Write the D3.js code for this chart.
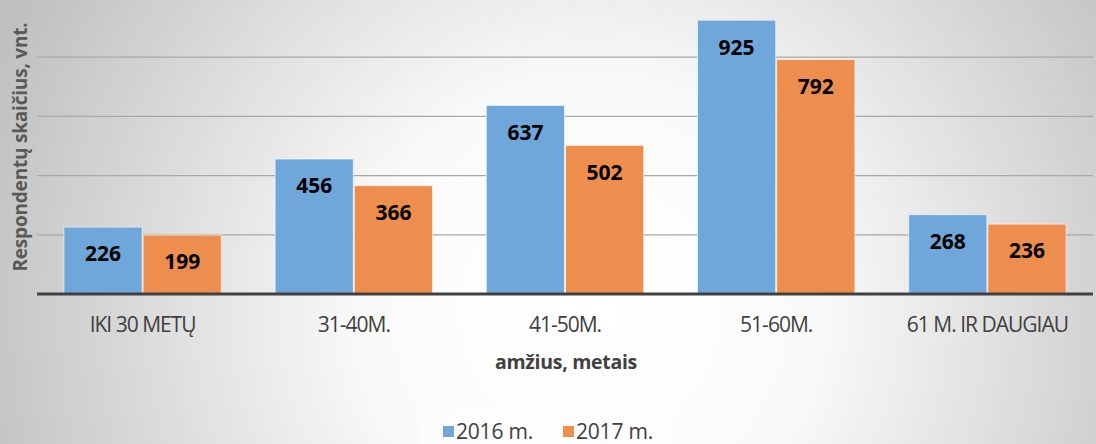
<!DOCTYPE html>
<html>
<head>
<meta charset="utf-8">
<script src="https://cdn.jsdelivr.net/npm/d3@7"></script>
<style>
  body { margin: 0; }
  svg { display: block; }
</style>
</head>
<body>
<div id="chart"></div>
<script>
let width = 1096,
    height = 444;
let margin = { top: -2, right: 3, bottom: 150, left: 37 };

// data
let categories = ["IKI 30 METŲ", "31-40M.", "41-50M.", "51-60M.", "61 M. IR DAUGIAU"];
let series = ["2016 m.", "2017 m."];
let values2016 = [226, 456, 637, 925, 268];
let values2017 = [199, 366, 502, 792, 236];
let gridTicks = [200, 400, 600, 800, 1000];

let colors = { "2016 m.": "#6fa7da", "2017 m.": "#ee8e4e" };

let rows = categories.map((c, i) => ({ cat: c, vals: [
    { key: "2016 m.", value: values2016[i] },
    { key: "2017 m.", value: values2017[i] }
] }));

let svg = d3.select("#chart")
    .append("svg")
    .attr("width", width)
    .attr("height", height);

// background gradient
let defs = svg.append("defs");
let grad = defs.append("radialGradient")
    .attr("id", "bg")
    .attr("gradientUnits", "userSpaceOnUse")
    .attr("cx", 590).attr("cy", 310).attr("r", 640);
grad.append("stop").attr("offset", "0%").attr("stop-color", "#ffffff");
grad.append("stop").attr("offset", "35%").attr("stop-color", "#fafafa");
grad.append("stop").attr("offset", "100%").attr("stop-color", "#c0c0c0");

svg.append("rect")
    .attr("width", width)
    .attr("height", height)
    .attr("fill", "url(#bg)");

let baseY = 294;
let x0 = d3.scaleBand()
    .domain(categories)
    .range([margin.left, width - margin.right])
    .paddingInner(0.25)
    .paddingOuter(0.125);
let x1 = d3.scaleBand()
    .domain(series)
    .range([0, x0.bandwidth()]);
let y = d3.scaleLinear()
    .domain([0, 1000])
    .range([baseY, -2]);

// gridlines
svg.append("g")
    .selectAll("line")
    .data(gridTicks)
    .join("line")
    .attr("x1", margin.left)
    .attr("x2", width - margin.right)
    .attr("y1", d => y(d))
    .attr("y2", d => y(d))
    .style("stroke", "#a8a8a8")
    .style("stroke-width", 1.3);

// bars
let groups = svg.append("g")
    .selectAll("g")
    .data(rows)
    .join("g")
    .attr("transform", d => "translate(" + x0(d.cat) + ",0)");

groups.selectAll("rect")
    .data(d => d.vals)
    .join("rect")
    .attr("x", d => x1(d.key) + 0.5)
    .attr("width", x1.bandwidth() - 1)
    .attr("y", d => y(d.value))
    .attr("height", d => baseY - y(d.value))
    .attr("fill", d => colors[d.key])
    .style("stroke", "rgba(255,255,255,0.6)")
    .style("stroke-width", 1);

groups.selectAll("text")
    .data(d => d.vals)
    .join("text")
    .attr("x", d => x1(d.key) + x1.bandwidth() / 2)
    .attr("y", d => y(d.value) + 27)
    .attr("dy", ".35em")
    .attr("text-anchor", "middle")
    .style("font-family", "'Open Sans', sans-serif")
    .style("font-weight", "bold")
    .style("font-size", "21px")
    .style("fill", "#000")
    .text(d => d.value);

// baseline axis
svg.append("line")
    .attr("x1", margin.left)
    .attr("x2", width - margin.right)
    .attr("y1", baseY)
    .attr("y2", baseY)
    .style("stroke", "#404040")
    .style("stroke-width", 3);

// category labels
let xAxis = svg.append("g")
    .attr("transform", "translate(0," + baseY + ")")
    .call(d3.axisBottom(x0).tickSize(0).tickPadding(0));
xAxis.select(".domain").remove();
xAxis.selectAll("text")
    .attr("y", 31)
    .attr("dy", ".35em")
    .style("font-family", "'Open Sans', sans-serif")
    .style("font-size", "21px")
    .style("letter-spacing", "-1px")
    .style("fill", "#404040");

// axis titles
svg.append("text")
    .attr("x", 566)
    .attr("y", 362)
    .attr("dy", ".35em")
    .attr("text-anchor", "middle")
    .style("font-family", "'Open Sans', sans-serif")
    .style("font-weight", "bold")
    .style("font-size", "19.5px")
    .style("letter-spacing", "-0.3px")
    .style("fill", "#404040")
    .text("amžius, metais");

svg.append("text")
    .attr("transform", "translate(20,147) rotate(-90)")
    .attr("dy", ".35em")
    .attr("text-anchor", "middle")
    .style("font-family", "'Open Sans', sans-serif")
    .style("font-weight", "bold")
    .style("font-size", "19px")
    .style("letter-spacing", "-0.2px")
    .style("fill", "#595959")
    .text("Respondentų skaičius, vnt.");

// legend
let legend = svg.append("g");
legend.append("rect")
    .attr("x", 420).attr("y", 409)
    .attr("width", 253).attr("height", 40)
    .attr("fill", "#ffffff")
    .attr("opacity", 0.35);

let legendX = [443, 563];
let items = legend.selectAll("g.item")
    .data(series)
    .join("g")
    .attr("class", "item")
    .attr("transform", (d, i) => "translate(" + legendX[i] + ",426)");
items.append("rect")
    .attr("width", 11).attr("height", 11)
    .attr("fill", d => colors[d]);
items.append("text")
    .attr("x", 13)
    .attr("y", 5.5)
    .attr("dy", ".35em")
    .style("font-family", "'Open Sans', sans-serif")
    .style("font-size", "21px")
    .style("letter-spacing", "-0.2px")
    .style("fill", "#404040")
    .text(d => d);
</script>
</body>
</html>
